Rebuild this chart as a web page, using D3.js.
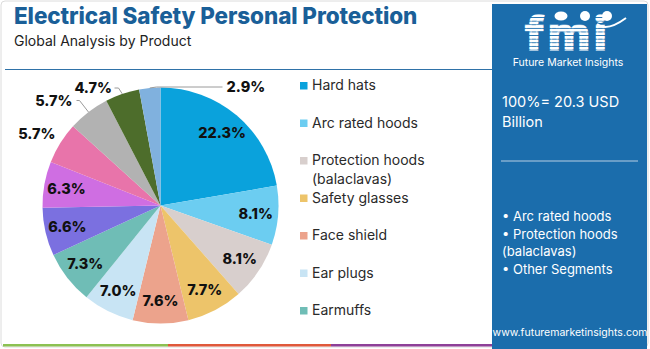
<!DOCTYPE html>
<html>
<head>
<meta charset="utf-8">
<script src="https://cdn.jsdelivr.net/npm/d3@7"></script>
<style>
  html, body { margin: 0; padding: 0; background: #fff; }
  svg { display: block; }
  text { font-family: "Inter", "Open Sans", sans-serif; }
</style>
</head>
<body>
<svg id="chart" width="650" height="349"></svg>
<script>
// Market share by product (percent of a 20.3 USD Billion total)
const categories = [
  "Hard hats", "Arc rated hoods", "Protection hoods (balaclavas)", "Safety glasses",
  "Face shield", "Ear plugs", "Earmuffs", "Insulated gloves", "Arc flash suits",
  "Dielectric footwear", "Sleeves", "Face shields with hood", "Others"
];
const shares = [22.3, 8.1, 8.1, 7.7, 7.6, 7.0, 7.3, 6.6, 6.3, 5.7, 5.7, 4.7, 2.9];
const sliceColors = [
  "#0aa2dc", "#6ccdf1", "#d8cfcd", "#edc46a", "#eca38c", "#c8e4f4", "#6fbdb6",
  "#7b70e0", "#cf6ee2", "#e874aa", "#b2b2b2", "#4d6d2b", "#80b1de"
];
// Only the first seven entries fit in the visible legend column
const legendItems = [
  ["Hard hats"], ["Arc rated hoods"], ["Protection hoods", "(balaclavas)"],
  ["Safety glasses"], ["Face shield"], ["Ear plugs"], ["Earmuffs"]
];
const panelTotal = ["100%= 20.3 USD", "Billion"];
const panelBullets = ["\u2022 Arc rated hoods", "\u2022 Protection hoods", "(balaclavas)", "\u2022 Other Segments"];

const svg = d3.select("#chart");

// outer frame
svg.append("rect").attr("x", 1).attr("y", 1).attr("width", 647).attr("height", 346)
  .attr("rx", 4).attr("fill", "#fff").attr("stroke", "#dcdcdc");

// header
svg.append("text").attr("x", 14).attr("y", 24)
  .attr("font-size", 22.5).attr("font-weight", 800).attr("fill", "#1a5f98")
  .style("letter-spacing", "-0.1px")
  .text("Electrical Safety Personal Protection");
svg.append("text").attr("x", 14).attr("y", 46)
  .attr("font-size", 14).attr("fill", "#222")
  .text("Global Analysis by Product");
svg.append("line").attr("x1", 5).attr("x2", 492).attr("y1", 69.5).attr("y2", 69.5)
  .attr("stroke", "#2f72a8").attr("stroke-width", 1);

// bottom colour strip
const strip = [["#8cc152", 3, 168], ["#e0583a", 168, 331], ["#8e3f98", 331, 494]];
strip.forEach(([c, a, b]) => svg.append("rect").attr("x", a).attr("y", 344)
  .attr("width", b - a).attr("height", 2.5).attr("fill", c));

// pie
const cx = 160.5, cy = 205.5, R = 118;
const pie = d3.pie().sort(null).value(d => d)(shares);
const arc = d3.arc().innerRadius(0).outerRadius(R);
const g = svg.append("g").attr("transform", `translate(${cx},${cy})`);
g.selectAll("path").data(pie).join("path")
  .attr("d", arc).attr("fill", (d, i) => sliceColors[i]);

const labelArc = d3.arc().innerRadius(R * 0.81).outerRadius(R * 0.81);
const fmt = d => d3.format(".1f")(d) + "%";
const outsideIdx = new Set([9, 10, 11, 12]);
pie.forEach((d, i) => {
  if (outsideIdx.has(i)) return;
  const [x, y] = labelArc.centroid(d);
  g.append("text").attr("x", x).attr("y", y).attr("dy", "0.35em")
    .attr("text-anchor", "middle").attr("font-size", 14.5).attr("font-weight", 800)
    .attr("fill", "#111").text(fmt(d.data));
});

// small slices get leader lines and outside labels
const pointAt = (d, r) => {
  const a = (d.startAngle + d.endAngle) / 2;
  return [r * Math.sin(a), -r * Math.cos(a)];
};
const outside = [
  { i: 12, elbow: [-4, -118.5], end: [62, -118.5], anchor: "start", tx: 66 },
  { i: 11, elbow: [-42, -117.5], end: [-46, -117.5], anchor: "end", tx: -48.5 },
  { i: 10, elbow: [-81, -105], end: [-84, -105], anchor: "end", tx: -88 },
  { i: 9, elbow: null, end: null, anchor: "end", tx: -105, ty: -72 }
];
outside.forEach(o => {
  const d = pie[o.i];
  const p0 = pointAt(d, R);
  if (o.elbow) {
    g.append("polyline")
      .attr("points", [p0, o.elbow, o.end].map(p => p.join(",")).join(" "))
      .attr("fill", "none").attr("stroke", "#9a9a9a").attr("stroke-width", 1);
  }
  const ty = o.ty !== undefined ? o.ty : o.end[1];
  g.append("text").attr("x", o.tx).attr("y", ty).attr("dy", "0.35em")
    .attr("text-anchor", o.anchor).attr("font-size", 14.5).attr("font-weight", 800)
    .attr("fill", "#111").text(fmt(d.data));
});

// legend
const legend = svg.append("g");
const rowY = d3.scaleLinear().domain([0, 1]).range([90, 127.5]);
legendItems.forEach((lines, i) => {
  const y = rowY(i);
  legend.append("rect").attr("x", 300).attr("y", y - 8).attr("width", 7.5).attr("height", 7.5)
    .attr("fill", sliceColors[i]);
  lines.forEach((t, k) => legend.append("text").attr("x", 312).attr("y", y + k * 18.5)
    .attr("font-size", 14).attr("fill", "#2a2a2a").text(t));
});

// right-hand info panel
const panel = svg.append("g");
panel.append("rect").attr("x", 492).attr("y", 4).attr("width", 155).attr("height", 345)
  .attr("fill", "#1b6dac");

// logo: striped "fmi" wordmark
const defs = svg.append("defs");
const pat = defs.append("pattern").attr("id", "stripes").attr("patternUnits", "userSpaceOnUse")
  .attr("width", 10).attr("height", 3.6);
pat.append("rect").attr("width", 10).attr("height", 2.7).attr("fill", "#fff");
panel.append("text").attr("x", 568).attr("y", 50).attr("text-anchor", "middle")
  .attr("font-family", "DejaVu Serif").attr("font-weight", 700).attr("font-size", 46)
  .style("letter-spacing", "4px")
  .attr("fill", "url(#stripes)").attr("stroke", "url(#stripes)").attr("stroke-width", 2.2)
  .text("fmi");
// icons above the wordmark
panel.append("ellipse").attr("cx", 561).attr("cy", 16).attr("rx", 6.5).attr("ry", 4.5).attr("fill", "#fff");
panel.append("circle").attr("cx", 585).attr("cy", 16).attr("r", 5).attr("fill", "#fff");
panel.append("circle").attr("cx", 607).attr("cy", 16).attr("r", 5).attr("fill", "#fff");
panel.append("path").attr("d", "M597,24 Q607,32 626,18").attr("fill", "none")
  .attr("stroke", "#fff").attr("stroke-width", 2);
panel.append("text").attr("x", 568).attr("y", 66).attr("text-anchor", "middle")
  .attr("font-size", 10.5).attr("fill", "#fff").text("Future Market Insights");

panelTotal.forEach((t, k) => panel.append("text").attr("x", 502).attr("y", 107 + k * 19.5)
  .attr("font-size", 14.5).attr("fill", "#fff").text(t));
panel.append("line").attr("x1", 501).attr("x2", 638).attr("y1", 161).attr("y2", 161)
  .attr("stroke", "#b8cfe3").attr("stroke-width", 1);
panelBullets.forEach((t, k) => panel.append("text").attr("x", 502).attr("y", 221 + k * 17.5)
  .attr("font-size", 13).attr("fill", "#fff").text(t));
panel.append("text").attr("x", 570).attr("y", 336).attr("text-anchor", "middle")
  .attr("font-size", 10.5).attr("fill", "#fff").text("www.futuremarketinsights.com");
</script>
</body>
</html>
